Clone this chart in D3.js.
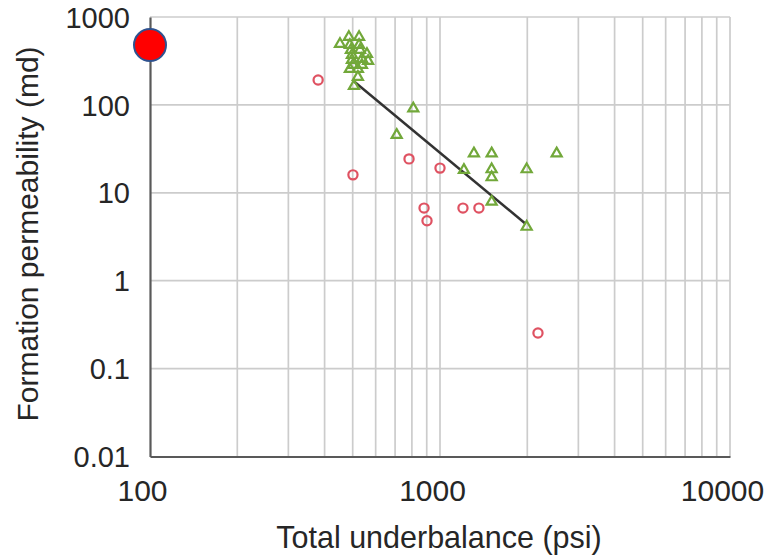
<!DOCTYPE html>
<html>
<head>
<meta charset="utf-8">
<script src="https://cdn.jsdelivr.net/npm/d3@7"></script>
<style>
    body { margin: 0; background: #fff; }
    text { font-family: "Liberation Sans", Arial, sans-serif; fill: #262626; }
</style>
</head>
<body>
<div id="chart"></div>
<script>
// underbalance (psi) / permeability (md)
const triangleX = [452, 485, 526, 489, 526, 493, 530, 497, 560, 497, 538, 565, 501, 538, 489, 521, 521, 505,
    809, 709, 1309, 1507, 2525, 1209, 1507, 1507, 1990, 1507, 1990];
const triangleY = [493, 592, 592, 480, 480, 421, 421, 370, 379, 324, 333, 316, 284, 284, 256, 256, 208, 164,
    91, 45.5, 28, 28, 28, 18.2, 18.5, 15, 18.5, 7.9, 4.1];

const circleX = [380, 501, 782, 1000, 881, 902, 1200, 1362, 2177];
const circleY = [192, 16, 24.3, 19.1, 6.7, 4.8, 6.7, 6.7, 0.254];

const trendX = [502, 1963];
const trendY = [188, 4.5];

const markerX = [100];
const markerY = [480];

const xTicks = [100, 1000, 10000];
const yTicks = [0.01, 0.1, 1, 10, 100, 1000];

const totalWidth = 769;
const totalHeight = 558;
const margin = {left: 150, top: 17, right: 39, bottom: 101.5};
const width = totalWidth - margin.left - margin.right;
const height = totalHeight - margin.top - margin.bottom;

const svg = d3.select("#chart")
    .append("svg")
    .attr("width", totalWidth)
    .attr("height", totalHeight)
;

svg.append("rect")
    .attr("width", totalWidth)
    .attr("height", totalHeight)
    .attr("fill", "#fff")
;

const g = svg.append("g")
    .attr("transform", `translate(${margin.left},${margin.top})`);

const x = d3.scaleLog().domain([100, 10000]).range([0, width]);
const y = d3.scaleLog().domain([0.01, 1000]).range([height, 0]);

// vertical grid, every minor step
let xGrid = [];
for (let d = 100; d <= 10000; d *= 10) {
    for (let k = 1; k <= 9; k++) {
        if (d * k > 100 && d * k <= 10000) xGrid.push(d * k);
    }
}

g.append("g")
    .selectAll("line")
    .data(xGrid)
    .join("line")
    .attr("x1", d => x(d))
    .attr("x2", d => x(d))
    .attr("y1", 0)
    .attr("y2", height)
    .attr("stroke", "#cccccc")
    .attr("stroke-width", 1.7)
;

g.append("g")
    .selectAll("line")
    .data(yTicks.filter(d => d > 0.01))
    .join("line")
    .attr("x1", 0)
    .attr("x2", width)
    .attr("y1", d => y(d))
    .attr("y2", d => y(d))
    .attr("stroke", "#cccccc")
    .attr("stroke-width", 1.7)
;

// axes
const xAxis = g.append("g")
    .attr("transform", `translate(0,${height})`)
    .call(d3.axisBottom(x).tickValues(xTicks).tickSize(0).tickFormat(d3.format("d")));
xAxis.select(".domain").attr("stroke", "#595959").attr("stroke-width", 2.2);
xAxis.selectAll("text")
    .attr("font-size", "30px")
    .attr("dx", -8)
    .attr("y", 44)
    .attr("dy", 0)
    .style("fill", "#262626")
;

const yAxis = g.append("g")
    .call(d3.axisLeft(y).tickValues(yTicks).tickSize(0).tickFormat(d => d3.format("~g")(d)));
yAxis.select(".domain").attr("stroke", "#595959").attr("stroke-width", 2.2);
yAxis.selectAll("text")
    .attr("font-size", "29px")
    .attr("x", -20)
    .attr("dy", "0.35em")
    .style("fill", "#262626")
;

// trend line
g.append("path")
    .datum(trendX.map((d, i) => [d, trendY[i]]))
    .attr("d", d3.line().x(d => x(d[0])).y(d => y(d[1])))
    .attr("stroke", "#333")
    .attr("stroke-width", 2.5)
    .attr("fill", "none")
;

g.append("g")
    .selectAll("path")
    .data(triangleX.map((d, i) => [d, triangleY[i]]))
    .join("path")
    .attr("d", d3.symbol(d3.symbolTriangle, 44))
    .attr("transform", d => `translate(${x(d[0])},${y(d[1])})`)
    .attr("fill", "none")
    .attr("stroke", "#72a83a")
    .attr("stroke-width", 2.2)
;

g.append("g")
    .selectAll("circle")
    .data(circleX.map((d, i) => [d, circleY[i]]))
    .join("circle")
    .attr("cx", d => x(d[0]))
    .attr("cy", d => y(d[1]))
    .attr("r", 4.6)
    .attr("fill", "none")
    .attr("stroke", "#df5262")
    .attr("stroke-width", 2.2)
;

// big red dot on the axis
g.append("g")
    .selectAll("circle")
    .data(markerX.map((d, i) => [d, markerY[i]]))
    .join("circle")
    .attr("cx", d => x(d[0]))
    .attr("cy", d => y(d[1]))
    .attr("r", 16)
    .attr("fill", "#ff0000")
    .attr("stroke", "#2f528f")
    .attr("stroke-width", 2)
;

svg.append("text")
    .attr("x", 439)
    .attr("y", 548)
    .attr("text-anchor", "middle")
    .attr("font-size", "30.5px")
    .text("Total underbalance (psi)")
;

svg.append("text")
    .attr("transform", "translate(38,234) rotate(-90)")
    .attr("text-anchor", "middle")
    .attr("font-size", "30px")
    .text("Formation permeability (md)")
;
</script>
</body>
</html>
